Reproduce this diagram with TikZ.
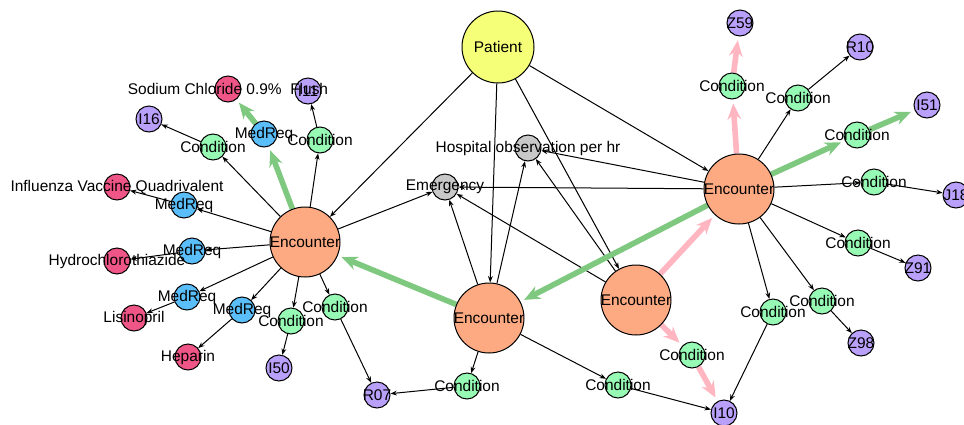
\documentclass[tikz,border=0pt]{standalone}
\usepackage{fontspec}
\setmainfont{Liberation Sans}
\usetikzlibrary{arrows.meta}

\pgfdeclarelayer{background}
\pgfsetlayers{background,main}

\definecolor{patfill}{RGB}{245,255,120}
\definecolor{encfill}{RGB}{253,170,130}
\definecolor{condfill}{RGB}{150,250,180}
\definecolor{medfill}{RGB}{90,190,250}
\definecolor{drugfill}{RGB}{240,85,135}
\definecolor{icdfill}{RGB}{185,160,250}
\definecolor{svcfill}{RGB}{200,200,200}
\definecolor{hlgreen}{RGB}{127,200,127}
\definecolor{hlpink}{RGB}{255,182,193}

\tikzset{
  smalltip/.tip={Stealth[length=1.6mm,width=1.2mm]},
  bigtip/.tip={Stealth[length=4mm,width=3.4mm]},
  vtx/.style={circle, draw=black, line width=0.25mm, inner sep=0pt, minimum size=6.5mm},
  pat/.style={vtx, fill=patfill, minimum size=18mm},
  enc/.style={vtx, fill=encfill, minimum size=17.5mm},
  cond/.style={vtx, fill=condfill},
  med/.style={vtx, fill=medfill},
  drug/.style={vtx, fill=drugfill},
  icd/.style={vtx, fill=icdfill},
  svc/.style={vtx, fill=svcfill},
  lbl/.style={inner sep=0pt, font=\fontsize{11}{13}\selectfont},
  lnk/.style={draw=black, line width=0.25mm, -smalltip},
  hl/.style={line width=1.4mm, -bigtip, shorten >=1mm},
  hlg/.style={hl, draw=hlgreen},
  hlp/.style={hl, draw=hlpink},
}

\begin{document}
\begin{tikzpicture}[x=0.25mm, y=-0.25mm]
\useasboundingbox (0,0) rectangle (964,424);

% patient, services, encounters
\node[pat] (pat) at (498,47) {};
\node[svc] (hosp) at (528,148) {};
\node[svc] (emer) at (445,187) {};
\node[enc] (encA) at (305,242) {};
\node[enc] (encB) at (489,318) {};
\node[enc] (encC) at (636,300) {};
\node[enc] (encD) at (739,189) {};

% left encounter
\node[cond] (cI16) at (213,147) {};
\node[icd] (xI16) at (149,119) {};
\node[med] (mSod) at (264,134) {};
\node[drug] (dSod) at (228,89) {};
\node[cond] (cI11) at (320,140) {};
\node[icd] (xI11) at (308,91) {};
\node[med] (mFlu) at (184,205) {};
\node[drug] (dFlu) at (117,187) {};
\node[med] (mHct) at (192,251) {};
\node[drug] (dHct) at (117,261) {};
\node[med] (mLis) at (187,297) {};
\node[drug] (dLis) at (134,318) {};
\node[med] (mHep) at (242,310) {};
\node[drug] (dHep) at (188,357) {};
\node[cond] (cI50) at (291,321) {};
\node[icd] (xI50) at (279,368) {};
\node[cond] (cR07a) at (335,307) {};
\node[icd] (xR07) at (377,395) {};

% middle encounters
\node[cond] (cR07b) at (467,386) {};
\node[cond] (cI10a) at (618,385) {};
\node[icd] (xI10) at (724,413) {};
\node[cond] (cI10b) at (692,355) {};

% right encounter
\node[cond] (cZ59) at (732,86) {};
\node[icd] (xZ59) at (740,23) {};
\node[cond] (cR10) at (798,98) {};
\node[icd] (xR10) at (860,47) {};
\node[cond] (cI51) at (857,135) {};
\node[icd] (xI51) at (927,105) {};
\node[cond] (cJ18) at (874,182) {};
\node[icd] (xJ18) at (956,195) {};
\node[cond] (cZ91) at (858,243) {};
\node[icd] (xZ91) at (918,268) {};
\node[cond] (cZ98) at (822,301) {};
\node[icd] (xZ98) at (861,343) {};
\node[cond] (cI10c) at (773,312) {};

% labels on top
\foreach \v/\txt in {pat/Patient, hosp/Hospital observation per hr, emer/Emergency,
    encA/Encounter, encB/Encounter, encC/Encounter, encD/Encounter,
    cI16/Condition, xI16/I16, mSod/MedReq, dSod/Sodium Chloride 0.9\%\ \ Flush,
    cI11/Condition, xI11/I11, mFlu/MedReq, dFlu/Influenza Vaccine Quadrivalent,
    mHct/MedReq, dHct/Hydrochlorothiazide, mLis/MedReq, dLis/Lisinopril,
    mHep/MedReq, dHep/Heparin, cI50/Condition, xI50/I50, cR07a/Condition, xR07/R07,
    cR07b/Condition, cI10a/Condition, xI10/I10, cI10b/Condition,
    cZ59/Condition, xZ59/Z59, cR10/Condition, xR10/R10, cI51/Condition, xI51/I51,
    cJ18/Condition, xJ18/J18, cZ91/Condition, xZ91/Z91, cZ98/Condition, xZ98/Z98,
    cI10c/Condition}
  \node[lbl] (\v-l) at (\v) {\txt};

\begin{pgfonlayer}{background}
% patient to encounters
\draw[lnk] (pat) -- (encA);
\draw[lnk] (pat) -- (encB);
\draw[lnk] (pat) -- (encC);
\draw[lnk] (pat) -- (encD);
% services
\draw[lnk] (encA) -- (emer);
\draw[lnk] (encB) -- (emer);
\draw[lnk] (encB) -- (hosp);
\draw[lnk] (encC) -- (emer);
\draw[lnk] (encC) -- (hosp);
\draw[lnk] (encD) -- (emer);
\draw[lnk] (encD) -- (hosp);
% left encounter
\draw[lnk] (encA) -- (cI16);
\draw[lnk] (cI16) -- (xI16);
\draw[lnk] (encA) -- (cI11);
\draw[lnk] (cI11) -- (xI11);
\draw[lnk] (encA) -- (mFlu);
\draw[lnk] (mFlu) -- (dFlu);
\draw[lnk] (encA) -- (mHct);
\draw[lnk] (mHct) -- (dHct);
\draw[lnk] (encA) -- (mLis);
\draw[lnk] (mLis) -- (dLis);
\draw[lnk] (encA) -- (mHep);
\draw[lnk] (mHep) -- (dHep);
\draw[lnk] (encA) -- (cI50);
\draw[lnk] (cI50) -- (xI50);
\draw[lnk] (encA) -- (cR07a);
\draw[lnk] (cR07a) -- (xR07);
% middle encounter
\draw[lnk] (encB) -- (cR07b);
\draw[lnk] (cR07b) -- (xR07);
\draw[lnk] (encB) -- (cI10a);
\draw[lnk] (cI10a) -- (xI10);
% right encounter
\draw[lnk] (encD) -- (cR10);
\draw[lnk] (cR10) -- (xR10);
\draw[lnk] (encD) -- (cJ18);
\draw[lnk] (cJ18) -- (xJ18);
\draw[lnk] (encD) -- (cZ91);
\draw[lnk] (cZ91) -- (xZ91);
\draw[lnk] (encD) -- (cZ98);
\draw[lnk] (cZ98) -- (xZ98);
\draw[lnk] (encD) -- (cI10c);
\draw[lnk] (cI10c) -- (xI10);
% highlighted paths
\draw[hlg] (encD) -- (encB);
\draw[hlg] (encB) -- (encA);
\draw[hlg] (encA) -- (mSod);
\draw[hlg] (mSod) -- (dSod);
\draw[hlg] (encD) -- (cI51);
\draw[hlg] (cI51) -- (xI51);
\draw[hlp] (encC) -- (encD);
\draw[hlp] (encC) -- (cI10b);
\draw[hlp] (cI10b) -- (xI10);
\draw[hlp] (encD) -- (cZ59);
\draw[hlp] (cZ59) -- (xZ59);
\end{pgfonlayer}
\end{tikzpicture}
\end{document}
